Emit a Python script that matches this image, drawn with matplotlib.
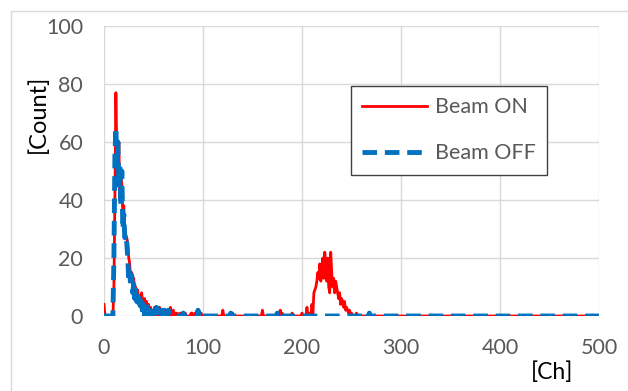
import numpy as np
import matplotlib
matplotlib.use("Agg")
from matplotlib import pyplot as plt
from matplotlib.patches import Rectangle

plt.rcParams['font.family'] = ['Lato', 'DejaVu Sans']

# counts per channel (channels above the listed range are 0)
beam_on_head = [
    4, 0, 0, 0, 0, 0, 0, 0, 0, 0,
    10, 40, 77, 55, 45, 60, 40, 50, 45, 35,
    38, 30, 28, 27, 25, 20, 18, 12, 15, 10,
    13, 8, 10, 6, 9, 4, 7, 3, 8, 5,
    2, 6, 3, 5, 1, 4, 2, 3, 0, 2,
    1, 3, 0, 1, 2, 0, 3, 1, 2, 0,
    1, 0, 2, 1, 0, 1, 0, 3, 0, 1,
    2, 0, 1, 0, 1, 0, 0, 1, 0, 0,
    0, 0, 1, 0, 0, 0, 0, 0, 1, 1,
    0, 0, 1, 0, 2, 2, 1, 0, 1, 0,
]
beam_on_blips = {120: 2, 130: 1, 160: 2, 175: 1, 178: 2, 180: 1, 190: 1}
beam_on_peak_ch = list(range(200, 260))
beam_on_peak = [
    1, 0, 0, 0, 0, 3, 0, 0, 1, 0,
    4, 1, 8, 9, 10, 12, 15, 13, 18, 12,
    16, 20, 13, 22, 17, 12, 20, 10, 8, 22,
    15, 10, 13, 8, 12, 10, 8, 6, 8, 4,
    6, 5, 3, 5, 2, 3, 2, 1, 2, 0,
    1, 0, 0, 0, 0, 1, 0, 0, 0, 0,
]

beam_off_head = [
    0, 0, 0, 0, 0, 0, 0, 0, 0, 0,
    20, 55, 65, 50, 60, 45, 52, 38, 50, 30,
    35, 27, 28, 25, 20, 12, 15, 10, 14, 8,
    11, 6, 9, 5, 7, 3, 6, 2, 5, 1,
    4, 0, 3, 1, 4, 0, 2, 1, 3, 0,
    1, 2, 0, 3, 1, 2, 0, 1, 2, 0,
    1, 2, 0, 1, 0, 2, 1, 0, 0, 0,
    0, 0, 0, 0, 0, 0, 0, 0, 0, 0,
    1, 0, 0, 0, 0, 0, 0, 0, 0, 0,
    0, 0, 0, 0, 0, 2, 0, 1, 0, 0,
]
beam_off_blips = {128: 1, 175: 1, 178: 1, 265: 1, 268: 1}

channels = np.arange(0, 501)

beam_on = np.zeros(len(channels))
beam_on[:len(beam_on_head)] = beam_on_head
for ch, v in beam_on_blips.items():
    beam_on[ch] = v
beam_on[beam_on_peak_ch] = beam_on_peak

beam_off = np.zeros(len(channels))
beam_off[:len(beam_off_head)] = beam_off_head
for ch, v in beam_off_blips.items():
    beam_off[ch] = v

W, H = 628, 391
fig = plt.figure(figsize=(W / 100, H / 100), dpi=100)
ax = fig.add_axes([104 / W, 1 - 316 / H, 495 / W, 290 / H])

# outer chart border
fig.patches.append(Rectangle((11 / W, -0.1), 1.2, (1 - 11 / H) + 0.1,
                             transform=fig.transFigure, fill=False,
                             edgecolor='#d9d9d9', lw=1))

ax.plot(channels, beam_on, color='#ff0000', lw=2.0, label='Beam ON')
ax.plot(channels, beam_off, color='#0070c0', lw=3.5, ls=(0, (3.0, 1.6)),
        label='Beam OFF')

ax.set_xlim(0, 500)
ax.set_ylim(0, 100)
ax.set_xticks([0, 100, 200, 300, 400, 500])
ax.set_yticks([0, 20, 40, 60, 80, 100])
ax.grid(color='#d9d9d9', lw=1)
ax.set_axisbelow(True)
for s in ax.spines.values():
    s.set_visible(False)
ax.tick_params(length=0, labelsize=15.5, colors='#595959')
ax.tick_params(axis='y', pad=15)
ax.tick_params(axis='x', pad=16)

# axis titles sit where the original chart put them, not centred
fig.text(38 / W, 1 - 114 / H, '[Count]', fontsize=17, rotation=90,
         ha='center', va='center', color='black')
fig.text(552 / W, 1 - 372 / H, '[Ch]', fontsize=16.5, ha='center',
         va='center', color='black')

leg = ax.legend(loc='upper left', bbox_to_anchor=(351 / 495 - 104 / 495, (316 - 86) / 290),
                fancybox=False, edgecolor='#404040', framealpha=1,
                fontsize=15.5, handlelength=3.0, labelspacing=1.2,
                borderpad=0.53, handletextpad=0.37, borderaxespad=0)
leg.get_frame().set_linewidth(1)
for t in leg.get_texts():
    t.set_color('#595959')

fig.savefig('out.png', dpi=100)
